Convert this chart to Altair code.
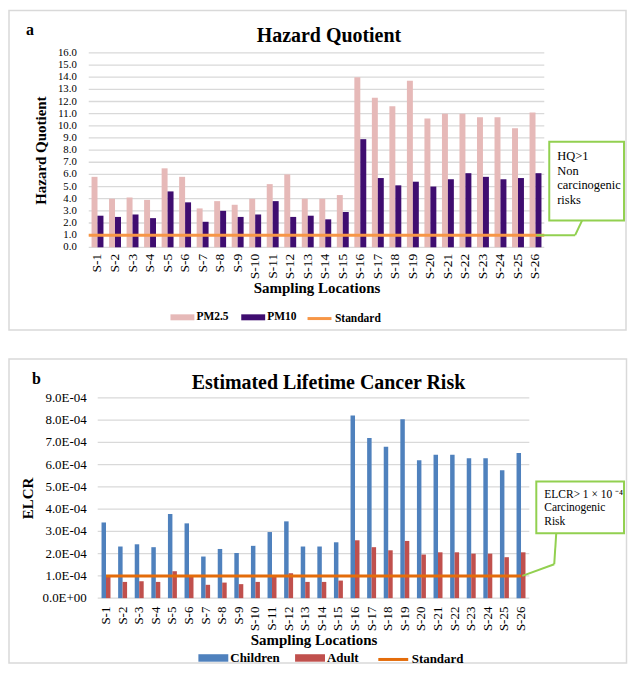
import altair as alt
import pandas as pd

SERIF = "Liberation Serif"

sites = ["S-1", "S-2", "S-3", "S-4", "S-5", "S-6", "S-7", "S-8", "S-9", "S-10",
         "S-11", "S-12", "S-13", "S-14", "S-15", "S-16", "S-17", "S-18", "S-19",
         "S-20", "S-21", "S-22", "S-23", "S-24", "S-25", "S-26"]

# Panel a: Hazard Quotient
pm25 = [5.8, 4.0, 4.1, 3.9, 6.5, 5.8, 3.2, 3.8, 3.5, 4.0, 5.2, 6.0, 4.0,
        4.0, 4.3, 14.0, 12.3, 11.6, 13.7, 10.6, 11.0, 11.0, 10.7, 10.7, 9.8, 11.1]
pm10 = [2.6, 2.5, 2.7, 2.4, 4.6, 3.7, 2.1, 3.0, 2.5, 2.7, 3.8, 2.5, 2.6,
        2.3, 2.9, 8.9, 5.7, 5.1, 5.4, 5.0, 5.6, 6.1, 5.8, 5.6, 5.7, 6.1]
hq_standard = [1.0]
hq_ticks = [0.0, 1.0, 2.0, 3.0, 4.0, 5.0, 6.0, 7.0, 8.0, 9.0, 10.0, 11.0,
            12.0, 13.0, 14.0, 15.0, 16.0]
hq_tick_labels = ["0.0", "1.0", "2.0", "3.0", "4.0", "5.0", "6.0", "7.0", "8.0",
                  "9.0", "10.0", "11.0", "12.0", "13.0", "14.0", "15.0", "16.0"]
hq_series = ["PM2.5", "PM10"]
hq_colors = ["#e6b9b8", "#3f0d70"]
hq_std_color = "#f79646"

# Panel b: Estimated Lifetime Cancer Risk
children = [3.40e-4, 2.32e-4, 2.42e-4, 2.29e-4, 3.78e-4, 3.36e-4, 1.87e-4,
            2.21e-4, 2.03e-4, 2.35e-4, 2.97e-4, 3.45e-4, 2.32e-4, 2.32e-4,
            2.51e-4, 8.20e-4, 7.20e-4, 6.80e-4, 8.04e-4, 6.20e-4, 6.44e-4,
            6.44e-4, 6.29e-4, 6.29e-4, 5.75e-4, 6.52e-4]
adult = [1.00e-4, 0.73e-4, 0.76e-4, 0.73e-4, 1.21e-4, 0.98e-4, 0.60e-4,
         0.70e-4, 0.63e-4, 0.73e-4, 0.97e-4, 1.12e-4, 0.73e-4, 0.73e-4,
         0.79e-4, 2.60e-4, 2.29e-4, 2.15e-4, 2.57e-4, 1.96e-4, 2.06e-4,
         2.06e-4, 2.00e-4, 2.00e-4, 1.84e-4, 2.06e-4]
elcr_standard = 1e-4
elcr_ticks = [0.0, 1e-4, 2e-4, 3e-4, 4e-4, 5e-4, 6e-4, 7e-4, 8e-4, 9e-4]
elcr_tick_labels = ["0.0E+00", "1.0E-04", "2.0E-04", "3.0E-04", "4.0E-04",
                    "5.0E-04", "6.0E-04", "7.0E-04", "8.0E-04", "9.0E-04"]
elcr_series = ["Children", "Adult"]
elcr_colors = ["#4f81bd", "#c0504d"]
elcr_std_color = "#e46c0a"

GRID = "#d9d9d9"
GREEN = "#92d050"
BAR_SWATCH = "M-1,-0.25H1V0.25H-1Z"


def one():
    return pd.DataFrame({"k": [0]})


def txt(text, x, y, size, weight="normal", align="left", line_height=None):
    kw = dict(align=align, baseline="alphabetic", font=SERIF, fontSize=size,
              fontWeight=weight, color="black", text=text)
    if line_height is not None:
        kw["lineHeight"] = line_height
    return alt.Chart(one()).mark_text(**kw).encode(x=alt.value(x), y=alt.value(y))


def box(x1, x2, y1, y2, stroke, sw, fill_opacity):
    return alt.Chart(one()).mark_rect(stroke=stroke, strokeWidth=sw, fill="white",
                                      fillOpacity=fill_opacity).encode(
        x=alt.value(x1), x2=alt.value(x2), y=alt.value(y1), y2=alt.value(y2))


def seg(x1, y1, x2, y2):
    return alt.Chart(one()).mark_rule(color=GREEN, strokeWidth=2).encode(
        x=alt.value(x1), y=alt.value(y1), x2=alt.value(x2), y2=alt.value(y2))


def bar_legend(lx, ly, size, fsize, colpad):
    return alt.Legend(
        title=None, orient="none", legendX=lx, legendY=ly, direction="horizontal",
        symbolType=BAR_SWATCH, symbolSize=size, symbolStrokeWidth=0,
        labelFont=SERIF, labelFontSize=fsize, labelFontWeight="bold",
        labelColor="black", labelOffset=2, columnPadding=colpad,
    )


def line_legend(lx, ly, size, fsize):
    return alt.Legend(
        title=None, orient="none", legendX=lx, legendY=ly, direction="horizontal",
        symbolType="stroke", symbolSize=size, symbolStrokeWidth=3,
        labelFont=SERIF, labelFontSize=fsize, labelFontWeight="bold",
        labelColor="black", labelOffset=2,
    )


def y_axis(title, pad):
    return alt.Axis(title=title, labels=False, grid=False, ticks=False, domain=False,
                    titleFont=SERIF, titleFontSize=15, titleFontWeight="bold",
                    titleColor="black", titlePadding=pad)


def x_axis(size, pad):
    return alt.Axis(title="Sampling Locations", labelAngle=-90, labelFontSize=size,
                    labelFont=SERIF, labelColor="black", labelPadding=pad, ticks=False,
                    domain=False, labelOverlap=False, titleFont=SERIF, titleColor="black",
                    titleFontSize=15, titleFontWeight="bold", titlePadding=2)


def grid_and_labels(ticks, labels, y_enc, x1, x2, label_x, fsize):
    df = pd.DataFrame({"value": ticks, "label": labels})
    g = alt.Chart(df).mark_rule(color=GRID, strokeWidth=1.3).encode(
        y=y_enc, x=alt.value(x1), x2=alt.value(x2))
    t = alt.Chart(df).mark_text(align="right", baseline="middle", font=SERIF,
                                fontSize=fsize, color="black").encode(
        y=alt.Y("value:Q"), x=alt.value(label_x), text="label:N")
    return g, t


# ---------------- Panel a ----------------
W1, H1 = 457, 195
hq_df = pd.DataFrame({
    "site": sites * 2,
    "series": [hq_series[0]] * len(sites) + [hq_series[1]] * len(sites),
    "value": pm25 + pm10,
})
hq_std_df = pd.DataFrame({"series": ["Standard"], "value": hq_standard})

hq_y = alt.Y("value:Q", scale=alt.Scale(domain=[0, 16], nice=False),
             axis=y_axis("Hazard Quotient", 40))
hq_grid, hq_labels = grid_and_labels(hq_ticks, hq_tick_labels, hq_y, 0, W1, -12, 10.8)

hq_bars = alt.Chart(hq_df).mark_bar().encode(
    x=alt.X("site:N", sort=sites, scale=alt.Scale(paddingInner=0.32, paddingOuter=0.16),
            axis=x_axis(13.5, 6)),
    xOffset=alt.XOffset("series:N", sort=hq_series,
                        scale=alt.Scale(paddingInner=0, paddingOuter=0)),
    y=alt.Y("value:Q"),
    color=alt.Color("series:N", scale=alt.Scale(domain=hq_series, range=hq_colors),
                    legend=bar_legend(82, 253, 576, 11.5, 12)),
)
hq_rule = alt.Chart(hq_std_df).mark_rule(strokeWidth=3).encode(
    y=alt.Y("value:Q"),
    stroke=alt.Stroke("series:N", scale=alt.Scale(domain=["Standard"], range=[hq_std_color]),
                      legend=line_legend(218, 253, 576, 11.5)))

panel_a = alt.layer(
    box(-80, 539, -42.5, 278, GRID, 1.5, 0),
    hq_grid,
    hq_labels,
    hq_bars,
    hq_rule,
    txt("a", -63, -18, 16, "bold"),
    txt("Hazard Quotient", 241, -11, 20, "bold", "center"),
    box(462, 537, 89, 168, GREEN, 2, 1),
    txt(["HQ>1", "Non", "carcinogenic", "risks"], 470, 107, 12.5, line_height=15),
    seg(495, 168, 488, 182.8),
    seg(488, 182.8, 449, 182.8),
).properties(width=W1, height=H1)

# ---------------- Panel b ----------------
# plot area shares its left edge with panel a; the band range starts 9px in
W2, H2 = 442, 201
X0 = 9
elcr_df = pd.DataFrame({
    "site": sites * 2,
    "series": [elcr_series[0]] * len(sites) + [elcr_series[1]] * len(sites),
    "value": children + adult,
})
elcr_std_df = pd.DataFrame({"site": sites, "series": ["Standard"] * len(sites),
                            "value": [elcr_standard] * len(sites)})

elcr_y = alt.Y("value:Q", scale=alt.Scale(domain=[0, 9e-4], nice=False),
               axis=y_axis("ELCR", 53))
elcr_grid, elcr_labels = grid_and_labels(elcr_ticks, elcr_tick_labels, elcr_y, X0, W2, -2, 13)

elcr_bars = alt.Chart(elcr_df).mark_bar().encode(
    x=alt.X("site:N", sort=sites,
            scale=alt.Scale(paddingInner=0.46, paddingOuter=0.23, range=[X0, W2]),
            axis=x_axis(13, 8)),
    xOffset=alt.XOffset("series:N", sort=elcr_series,
                        scale=alt.Scale(paddingInner=0, paddingOuter=0)),
    y=alt.Y("value:Q"),
    color=alt.Color("series:N", scale=alt.Scale(domain=elcr_series, range=elcr_colors),
                    legend=bar_legend(110, 246, 900, 13, 15)),
)
elcr_line = alt.Chart(elcr_std_df).mark_line(strokeWidth=3).encode(
    x=alt.X("site:N", sort=sites), y=alt.Y("value:Q"),
    stroke=alt.Stroke("series:N", scale=alt.Scale(domain=["Standard"], range=[elcr_std_color]),
                      legend=line_legend(289, 246, 900, 13)))

panel_b = alt.layer(
    box(-80, 539.5, -39, 266, GRID, 1.5, 0),
    elcr_grid,
    elcr_labels,
    elcr_bars,
    elcr_line,
    txt("b", -57, -14, 16, "bold"),
    txt("Estimated Lifetime Cancer Risk", 240.5, -9, 20, "bold", "center"),
    box(449, 537, 84, 136, GREEN, 2, 1),
    txt(["ELCR> 1 × 10 ⁻⁴", "Carcinogenic", "Risk"], 457, 100.5, 11.5, line_height=13.5),
    seg(469, 136, 467, 167),
    seg(467, 167, 435, 178.7),
).properties(width=W2, height=H2)

chart = alt.vconcat(panel_a, panel_b, spacing=27).resolve_scale(
    color="independent", stroke="independent", x="independent", y="independent",
    xOffset="independent"
).properties(padding={"left": 0, "top": 0, "right": 0, "bottom": 0}).configure_view(
    stroke=None
)

chart.save("out.html", embed_options={"renderer": "svg", "actions": False})
